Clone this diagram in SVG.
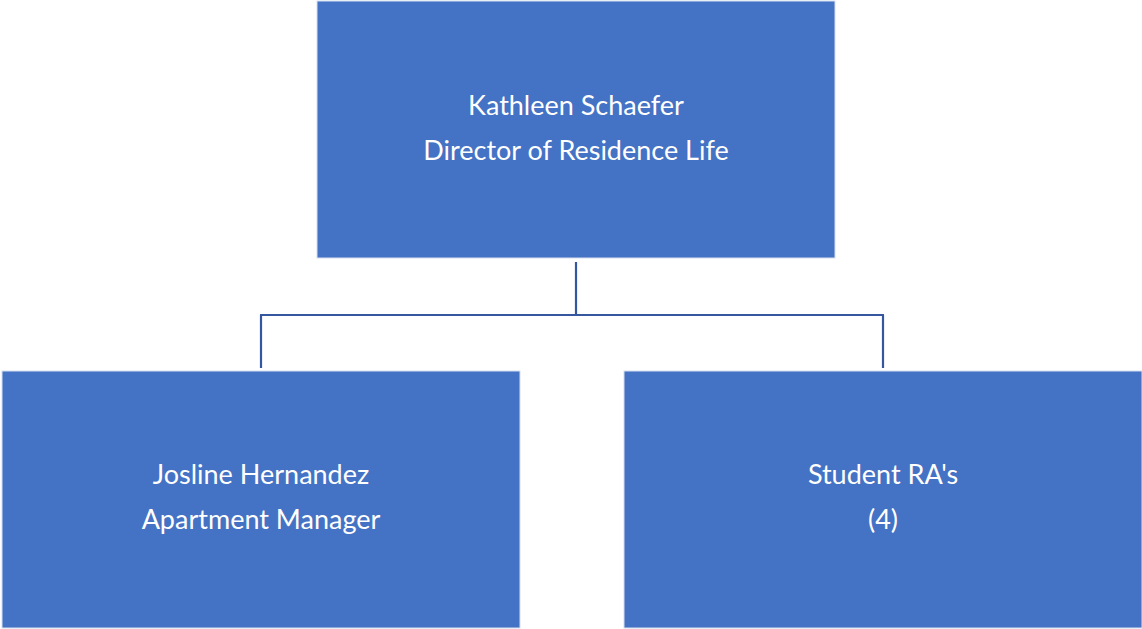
<svg xmlns="http://www.w3.org/2000/svg" width="1142" height="629" viewBox="0 0 1142 629">
<style>
.box{fill:#4472C4;stroke:#D6DEEF;stroke-width:1}
.t{font-family:Lato,"Open Sans",sans-serif;font-size:27px;fill:#FFFFFF;text-anchor:middle}
.c{fill:none;stroke:#3557A0;stroke-width:2.2}
</style>
<rect width="1142" height="629" fill="#FFFFFF"/>
<g id="connectors">
<path class="c" d="M576,262 V315 M260,315 H884 M261,315 V368 M883,315 V368"/>
</g>
<g id="node-director">
<rect class="box" x="317" y="1" width="518" height="257"/>
<text class="t" x="576" y="115">Kathleen Schaefer</text>
<text class="t" x="576" y="160">Director of Residence Life</text>
</g>
<g id="node-manager">
<rect class="box" x="2" y="371" width="518" height="257"/>
<text class="t" x="261" y="484">Josline Hernandez</text>
<text class="t" x="261" y="529">Apartment Manager</text>
</g>
<g id="node-ras">
<rect class="box" x="624" y="371" width="518" height="257"/>
<text class="t" x="883" y="484">Student RA's</text>
<text class="t" x="883" y="529">(4)</text>
</g>
</svg>
